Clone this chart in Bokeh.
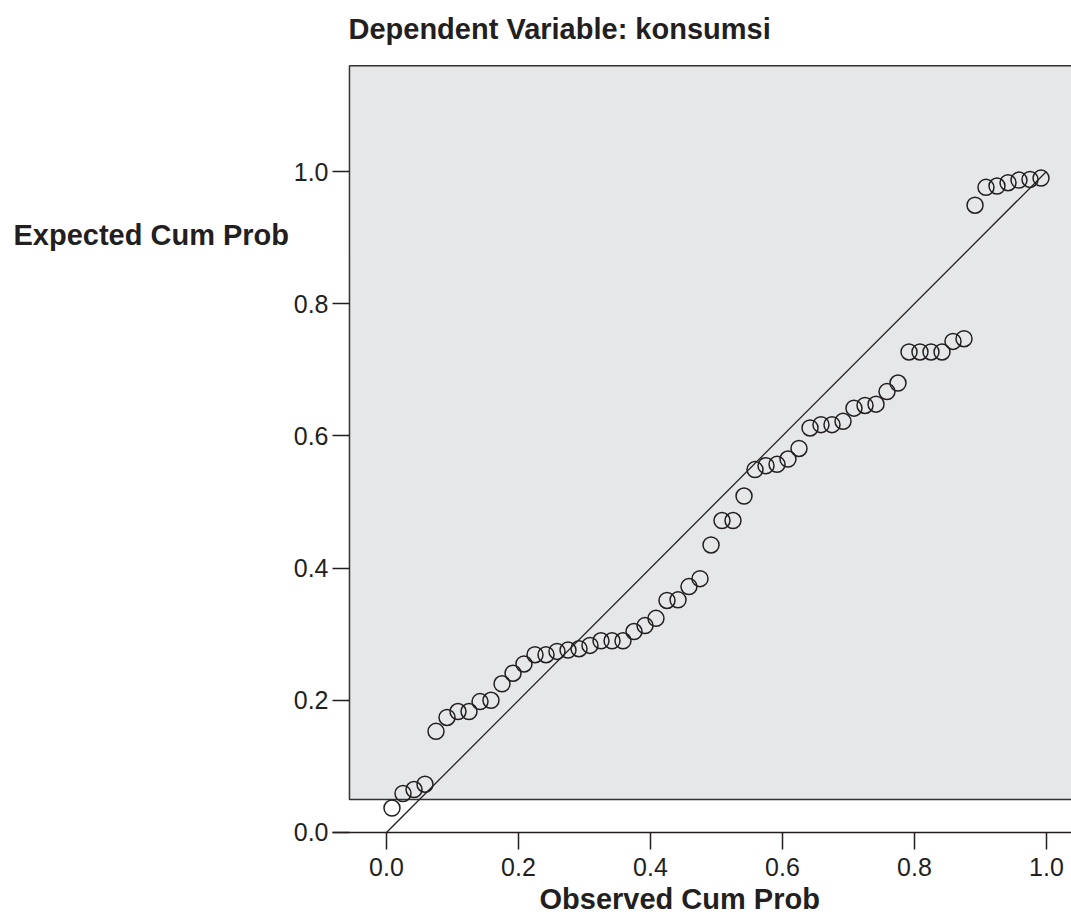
from bokeh.plotting import figure
from bokeh.models import Range1d, FixedTicker, Label, PrintfTickFormatter
from bokeh.embed import file_html
from bokeh.resources import INLINE

# Observed cumulative probability (x) and expected cumulative probability (y)
observed = [0.0083, 0.025, 0.0417, 0.0583, 0.075, 0.0917, 0.1083, 0.125, 0.1417, 0.1583,
            0.175, 0.1917, 0.2083, 0.225, 0.2417, 0.2583, 0.275, 0.2917, 0.3083, 0.325,
            0.3417, 0.3583, 0.375, 0.3917, 0.4083, 0.425, 0.4417, 0.4583, 0.475, 0.4917,
            0.5083, 0.525, 0.5417, 0.5583, 0.575, 0.5917, 0.6083, 0.625, 0.6417, 0.6583,
            0.675, 0.6917, 0.7083, 0.725, 0.7417, 0.7583, 0.775, 0.7917, 0.8083, 0.825,
            0.8417, 0.8583, 0.875, 0.8917, 0.9083, 0.925, 0.9417, 0.9583, 0.975, 0.9917]
expected = [0.037, 0.059, 0.065, 0.073, 0.153, 0.174, 0.183, 0.183, 0.198, 0.200,
            0.225, 0.241, 0.255, 0.269, 0.269, 0.274, 0.276, 0.278, 0.283, 0.290,
            0.290, 0.290, 0.304, 0.313, 0.324, 0.351, 0.352, 0.372, 0.384, 0.435,
            0.472, 0.472, 0.509, 0.549, 0.555, 0.557, 0.565, 0.581, 0.612, 0.617,
            0.617, 0.622, 0.642, 0.646, 0.648, 0.667, 0.680, 0.727, 0.727, 0.727,
            0.727, 0.743, 0.747, 0.949, 0.976, 0.978, 0.983, 0.987, 0.988, 0.990]
diag = [0.0, 1.0]
ticks = [0.0, 0.2, 0.4, 0.6, 0.8, 1.0]

title_text = "Dependent Variable: konsumsi"
x_title = "Observed Cum Prob"
y_title = "Expected Cum Prob"

# data region (gray panel)
panel_left, panel_right, panel_bottom, panel_top = -0.0561, 1.2, 0.0499, 1.160

TXT = "#231F20"
FONT = "Liberation Sans"

p = figure(width=1071, height=918, output_backend="svg", toolbar_location=None,
           x_range=Range1d(-0.58485, 1.03788), y_range=Range1d(-0.13011, 1.25870),
           min_border_left=0, min_border_right=0, min_border_top=0, min_border_bottom=0)
p.outline_line_color = None
p.grid.visible = False
p.background_fill_color = "white"
p.border_fill_color = "white"

p.quad(left=[panel_left], right=[panel_right], bottom=[panel_bottom], top=[panel_top],
       fill_color="#E6E7E8", line_color="#333333", line_width=1.5)

p.line(diag, diag, line_color="#231F20", line_width=1.3)
p.scatter(observed, expected, marker="circle", size=16, fill_color=None,
          line_color="#231F20", line_width=1.5)

# x axis (placed at y = 0 inside the canvas)
xa = p.xaxis[0]
xa.fixed_location = 0.0
xa.bounds = (-0.0818, 1.2)
xa.ticker = FixedTicker(ticks=ticks)
xa.formatter = PrintfTickFormatter(format="%.1f")
xa.minor_tick_line_color = None
xa.major_tick_in = 0
xa.major_tick_out = 17
xa.major_tick_line_width = 1.5
xa.major_tick_line_color = TXT
xa.axis_line_color = TXT
xa.axis_line_width = 1.5
xa.major_label_standoff = 9
xa.major_label_text_font = FONT
xa.major_label_text_font_size = "25px"
xa.major_label_text_color = TXT

# y axis (ticks straddle the panel's left edge)
ya = p.yaxis[0]
ya.fixed_location = -0.0697
ya.ticker = FixedTicker(ticks=ticks)
ya.formatter = PrintfTickFormatter(format="%.1f")
ya.minor_tick_line_color = None
ya.axis_line_color = None
ya.major_tick_in = 9
ya.major_tick_out = 8
ya.major_tick_line_width = 1.5
ya.major_tick_line_color = TXT
ya.major_label_standoff = 4
ya.major_label_text_font = FONT
ya.major_label_text_font_size = "25px"
ya.major_label_text_color = TXT

p.add_layout(Label(x=-0.0576, y=1.2163, text=title_text, text_font=FONT,
                   text_font_size="29px", text_font_style="bold", text_color=TXT,
                   text_baseline="alphabetic", text_align="left"))
p.add_layout(Label(x=-0.5652, y=0.9046, text=y_title, text_font=FONT,
                   text_font_size="29px", text_font_style="bold", text_color=TXT,
                   text_baseline="alphabetic", text_align="left"))
p.add_layout(Label(x=0.2318, y=-0.1005, text=x_title, text_font=FONT,
                   text_font_size="29px", text_font_style="bold", text_color=TXT,
                   text_baseline="alphabetic", text_align="left"))

open("out.html", "w").write(file_html(p, INLINE))
